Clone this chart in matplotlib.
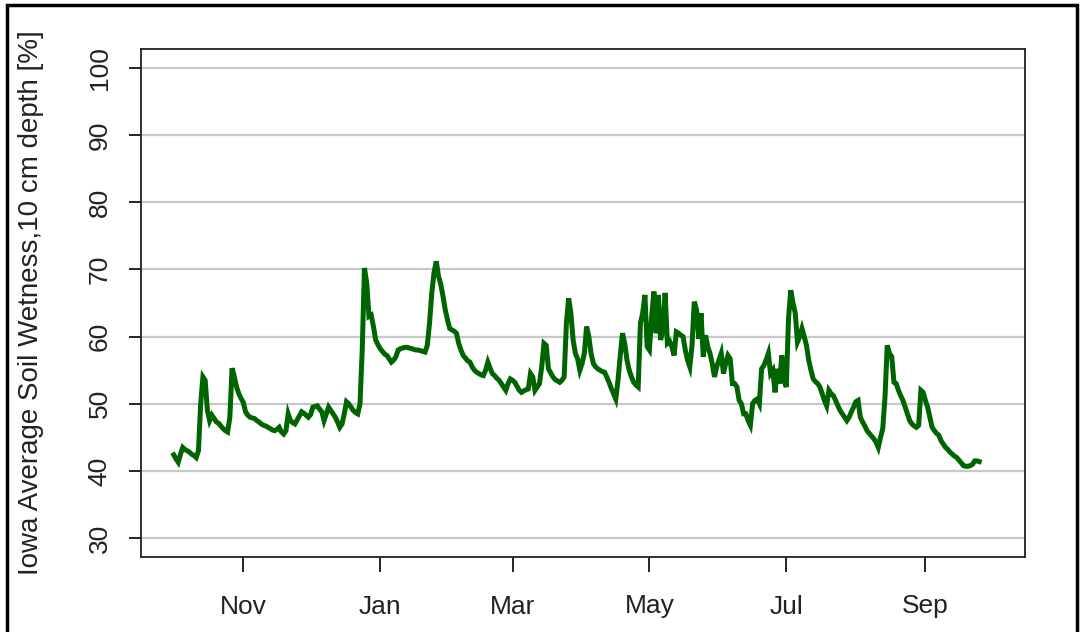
import matplotlib
matplotlib.use("Agg")
import matplotlib.pyplot as plt
import numpy as np
import pandas as pd
from matplotlib.patches import Rectangle

plt.rcParams['font.family'] = ['Liberation Sans', 'DejaVu Sans']

start_date = "2018-10-01"
oct_v = [42.4, 41.8, 41.3, 42.5, 43.5, 43.2, 43.0, 42.8, 42.5, 42.3, 42.0, 43.0, 50.0, 54.0, 53.5, 49.0,
         47.5, 48.3, 47.8, 47.3, 47.1, 46.7, 46.3, 46.0, 45.8, 48.0, 55.3, 54.0, 52.5, 51.5, 50.8]
nov_v = [50.2, 48.8, 48.3, 48.0, 47.9, 47.8, 47.5, 47.3, 47.0, 46.8, 46.7, 46.5, 46.3, 46.1, 46.0, 46.2,
         46.5, 45.8, 45.5, 46.0, 48.5, 47.5, 47.2, 47.0, 47.6, 48.2, 48.8, 48.6, 48.3, 48.0]
dec_v = [48.4, 49.5, 49.6, 49.7, 49.2, 48.8, 47.5, 48.5, 49.5, 49.0, 48.5, 48.0, 47.3, 46.5, 47.0, 48.5,
         50.3, 50.0, 49.5, 49.0, 48.7, 48.5, 50.0, 58.0, 70.2, 68.0, 63.0, 63.2, 61.5, 59.5, 58.8]
jan_v = [58.2, 57.8, 57.4, 57.2, 56.7, 56.2, 56.5, 57.0, 58.0, 58.2, 58.3, 58.4, 58.4, 58.3, 58.2, 58.1,
         58.0, 58.0, 57.9, 57.8, 57.7, 58.7, 62.0, 66.5, 69.5, 71.2, 69.0, 67.8, 66.0, 64.0, 62.5]
feb_v = [61.2, 61.0, 60.8, 60.5, 59.0, 58.0, 57.2, 56.8, 56.4, 56.2, 55.5, 55.0, 54.7, 54.5, 54.3, 54.2,
         55.0, 56.2, 55.3, 54.5, 54.2, 53.8, 53.5, 53.0, 52.5, 52.0, 53.0, 53.7]
mar_v = [53.5, 53.2, 52.6, 52.0, 51.7, 51.9, 52.1, 52.2, 54.5, 54.0, 52.0, 52.5, 53.0, 55.5, 59.0, 58.7,
         55.2, 54.6, 54.0, 53.6, 53.4, 53.2, 53.5, 54.0, 62.0, 65.7, 63.5, 59.5, 57.5, 56.7, 55.0]
apr_v = [56.0, 57.5, 61.5, 60.0, 57.5, 56.0, 55.5, 55.2, 55.0, 54.8, 54.7, 54.0, 53.2, 52.3, 51.5, 50.7,
         53.5, 57.2, 60.5, 59.0, 56.5, 55.0, 54.0, 53.2, 52.8, 52.5, 62.0, 63.5, 66.2, 58.5]
may_v = [58.0, 63.0, 66.7, 60.5, 66.2, 59.5, 61.0, 66.5, 59.0, 59.3, 58.5, 57.2, 60.7, 60.5, 60.2, 60.0,
         58.0, 56.5, 55.5, 58.7, 65.2, 64.0, 59.7, 63.5, 57.0, 60.2, 58.5, 57.5, 56.0, 54.0, 55.5]
jun_v = [56.5, 57.5, 54.5, 56.0, 57.2, 56.7, 53.0, 53.0, 52.5, 50.5, 50.0, 48.5, 48.5, 47.5, 46.8, 50.0,
         50.5, 50.7, 50.0, 55.2, 55.7, 56.5, 57.5, 54.5, 55.0, 51.7, 55.2, 53.0, 57.2, 53.5]
jul_v = [52.5, 62.7, 66.9, 65.0, 63.5, 59.2, 60.0, 61.2, 60.0, 58.7, 56.5, 55.0, 53.7, 53.3, 53.0, 52.5,
         51.5, 50.5, 49.7, 52.0, 51.5, 51.2, 50.5, 49.7, 49.0, 48.5, 48.0, 47.5, 48.0, 48.8, 49.5]
aug_v = [50.3, 50.5, 48.0, 47.3, 46.7, 46.0, 45.6, 45.2, 44.8, 44.3, 43.5, 45.0, 46.3, 51.0, 58.7, 57.5,
         57.0, 53.2, 53.0, 52.0, 51.2, 50.5, 49.5, 48.5, 47.5, 47.0, 46.7, 46.5, 46.8, 52.0, 51.7]
sep_v = [50.5, 49.5, 48.0, 46.5, 46.0, 45.6, 45.3, 44.5, 44.0, 43.5, 43.2, 42.8, 42.5, 42.2, 42.0, 41.6,
         41.2, 40.8, 40.7, 40.7, 40.8, 41.0, 41.5, 41.5, 41.4]

wetness = oct_v + nov_v + dec_v + jan_v + feb_v + mar_v + apr_v + may_v + jun_v + jul_v + aug_v + sep_v
dates = pd.date_range(start_date, periods=len(wetness), freq="D")

tick_dates = pd.to_datetime(["2018-11-01", "2019-01-01", "2019-03-01", "2019-05-01", "2019-07-01", "2019-09-01"])
tick_labels = ["Nov", "Jan", "Mar", "May", "Jul", "Sep"]
y_ticks = [30, 40, 50, 60, 70, 80, 90, 100]
y_label = "Iowa Average Soil Wetness,10 cm depth [%]"

W, H = 1087, 632
fig = plt.figure(figsize=(W / 100, H / 100), dpi=100)
fig.patch.set_facecolor("white")

ax = fig.add_axes([141 / W, 1 - 557 / H, (1025 - 141) / W, (557 - 49) / H])

for v in y_ticks:
    ax.axhline(v, color="#c8c8c8", lw=1.6, zorder=1)

ax.plot(dates, wetness, color="#006400", lw=3.6, zorder=3, solid_joinstyle="miter")

x0 = pd.Timestamp(start_date)
ax.set_xlim(x0 - pd.Timedelta(days=14.6), x0 + pd.Timedelta(days=379.4))
ax.set_ylim(27.2, 102.8)

ax.set_xticks(tick_dates)
ax.set_xticklabels(tick_labels)
ax.set_yticks(y_ticks)
ax.set_yticklabels([str(v) for v in y_ticks], rotation=90, va="center")

ax.tick_params(axis="x", length=11, width=1.2, pad=16, labelsize=19, colors="black")
ax.tick_params(axis="y", length=9, width=1.2, pad=12, labelsize=19, colors="black")
for t in ax.get_xticklabels():
    t.set_color("#222222")
for t in ax.get_yticklabels():
    t.set_color("#222222")
for s in ax.spines.values():
    s.set_linewidth(1.3)
    s.set_color("#222222")

fig.text(31 / W, 1 - 303 / H, y_label, rotation=90, ha="center", va="center",
         fontsize=20, color="#222222")

# outer black frame
fig.add_artist(Rectangle((7 / W, -0.05), (1077 - 7) / W, 1.05 - 5 / H, transform=fig.transFigure,
                         fill=False, edgecolor="black", lw=2.5))

fig.savefig("out.png", dpi=100, facecolor="white")
